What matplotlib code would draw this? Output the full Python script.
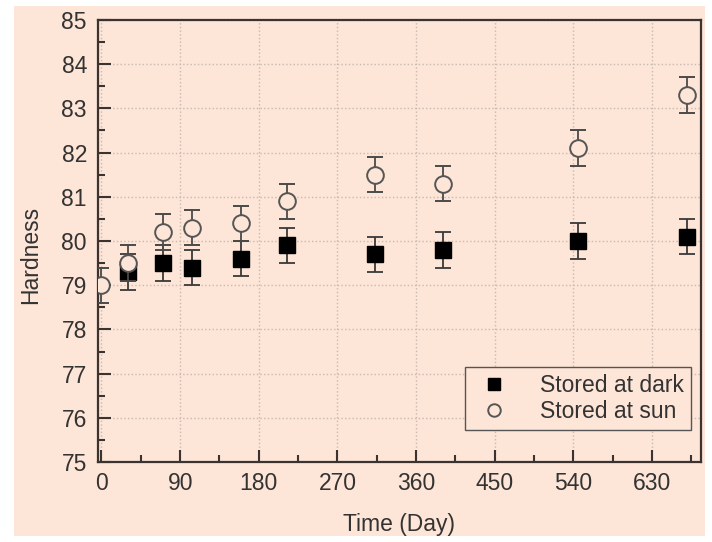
import matplotlib.pyplot as plt
import matplotlib
from matplotlib.patches import Rectangle
from matplotlib.ticker import MultipleLocator

matplotlib.rcParams['font.family'] = ['Liberation Sans', 'DejaVu Sans']

# data
dark_days = [30, 70, 103, 160, 212, 313, 391, 545, 670]
dark_hard = [79.3, 79.5, 79.4, 79.6, 79.9, 79.7, 79.8, 80.0, 80.1]
dark_err = [0.4, 0.4, 0.4, 0.4, 0.4, 0.4, 0.4, 0.4, 0.4]

sun_days = [0, 30, 70, 103, 160, 212, 313, 391, 545, 670]
sun_hard = [79.0, 79.5, 80.2, 80.3, 80.4, 80.9, 81.5, 81.3, 82.1, 83.3]
sun_err = [0.4, 0.4, 0.4, 0.4, 0.4, 0.4, 0.4, 0.4, 0.4, 0.4]

x_ticks = [0, 90, 180, 270, 360, 450, 540, 630]

bg = '#fde5d7'
txt = '#333333'
spine = '#3b3330'
fs = 16.5

fig = plt.figure(figsize=(7.12, 5.42), dpi=100, facecolor='white')
fig.patches.append(Rectangle((14/712, 6/542), (705-14)/712, (536-6)/542,
                             transform=fig.transFigure, facecolor=bg,
                             edgecolor='none', zorder=-10))
ax = fig.add_axes([98/712, 1-462/542, (701-98)/712, (462-20)/542])
ax.set_facecolor(bg)

ax.errorbar(dark_days, dark_hard, yerr=dark_err, fmt='s', color='black',
            markersize=12, ecolor='#3a3a3a', elinewidth=1.3, capsize=6,
            capthick=1.3, label='Stored at dark', zorder=3)
ax.errorbar(sun_days, sun_hard, yerr=sun_err, fmt='o', mfc=bg, mec='#555555',
            mew=1.4, markersize=12, ecolor='#4a4a4a', elinewidth=1.3,
            capsize=6, capthick=1.3, label='Stored at sun', zorder=4)

ax.set_xlim(-4, 686)
ax.set_ylim(75, 85)
ax.set_xticks(x_ticks)
ax.xaxis.set_minor_locator(MultipleLocator(45))
ax.yaxis.set_major_locator(MultipleLocator(1))
ax.yaxis.set_minor_locator(MultipleLocator(0.5))
ax.grid(True, which='major', linestyle=':', color='#c8bab0', linewidth=1)
ax.set_axisbelow(True)

ax.tick_params(which='both', direction='in', top=False, right=False,
               colors=spine, labelcolor=txt, labelsize=fs, width=1.5)
ax.tick_params(which='major', length=9)
ax.tick_params(which='minor', length=5)
ax.tick_params(axis='x', which='both', pad=7)
ax.tick_params(axis='y', which='both', pad=8)
for s in ax.spines.values():
    s.set_color(spine)
    s.set_linewidth(1.6)

ax.set_xlabel('Time (Day)', fontsize=fs, color=txt)
ax.set_ylabel('Hardness', fontsize=fs, color=txt)
ax.xaxis.set_label_coords((399-98)/603, -(513-462)/442)
ax.yaxis.set_label_coords(-(98-42)/603, (462-255)/442)

handles, labels = ax.get_legend_handles_labels()
handles = [h[0] for h in handles]
leg = ax.legend(handles, labels, loc='lower right',
                bbox_to_anchor=((691-98)/603, (462-430)/442),
                fontsize=fs, frameon=True, fancybox=False, framealpha=1,
                facecolor=bg, edgecolor='#555555', handletextpad=1.0,
                borderpad=0.3, labelspacing=0.15, borderaxespad=0,
                markerscale=0.75)
for t in leg.get_texts():
    t.set_color(txt)

fig.savefig('out.png', dpi=100, facecolor='white')
